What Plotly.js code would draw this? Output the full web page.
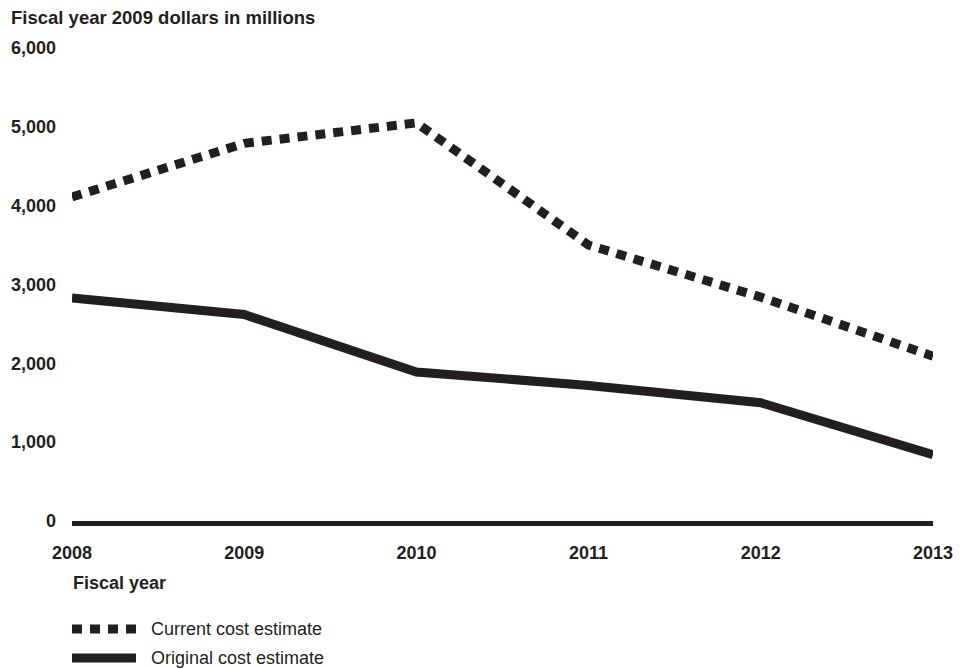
<!DOCTYPE html>
<html>
<head>
<meta charset="utf-8">
<script src="https://cdn.plot.ly/plotly-3.0.1.min.js"></script>
<style>html,body{margin:0;padding:0;background:#fff;}#chart{width:972px;height:669px;}</style>
</head>
<body>
<div id="chart"></div>
<script>
const years = [2008, 2009, 2010, 2011, 2012, 2013];
const currentEstimate = [4110, 4790, 5050, 3500, 2840, 2090];
const originalEstimate = [2830, 2620, 1890, 1720, 1500, 840];
const yTicks = [0, 1000, 2000, 3000, 4000, 5000, 6000];
const seriesNames = ['Current cost estimate', 'Original cost estimate'];

const INK = '#231f20';
const FONT = 'Liberation Sans, Arial, Helvetica, sans-serif';
const W = 972, H = 669;
const M = {l: 72, r: 39, t: 48, b: 148};
const pw = W - M.l - M.r, ph = H - M.t - M.b;
const px = x => (x - M.l) / pw;
const py = y => (H - M.b - y) / ph;

const traces = [
  {x: years, y: currentEstimate, name: seriesNames[0], type: 'scatter', mode: 'lines',
   line: {color: INK, width: 9, dash: '10px,8px'}, showlegend: false, hoverinfo: 'x+y'},
  {x: years, y: originalEstimate, name: seriesNames[1], type: 'scatter', mode: 'lines',
   line: {color: INK, width: 9}, showlegend: false, hoverinfo: 'x+y'}
];

const layout = {
  width: W, height: H,
  margin: M,
  paper_bgcolor: '#fff', plot_bgcolor: '#fff',
  font: {family: FONT, color: INK, size: 18},
  xaxis: {
    range: [2008, 2013], tickvals: years, tickformat: 'd',
    showgrid: false, zeroline: false, showline: true, linecolor: INK, linewidth: 5,
    ticks: '', ticklabelstandoff: 11,
    tickfont: {family: FONT, size: 18, color: INK, weight: 'bold'}
  },
  yaxis: {
    range: [0, 6000], tickvals: yTicks, tickformat: ',d',
    showgrid: false, zeroline: false, showline: false,
    ticks: '', ticklabelstandoff: 15,
    tickfont: {family: FONT, size: 18, color: INK, weight: 'bold'}
  },
  shapes: [
    {type: 'line', xref: 'paper', yref: 'paper', x0: px(72), x1: px(136), y0: py(629), y1: py(629),
     line: {color: INK, width: 9, dash: '10px,8px'}},
    {type: 'line', xref: 'paper', yref: 'paper', x0: px(72), x1: px(136), y0: py(658), y1: py(658),
     line: {color: INK, width: 9}}
  ],
  annotations: [
    {text: '<b>Fiscal year 2009 dollars in millions</b>', xref: 'paper', yref: 'paper',
     x: px(9), y: py(18), xanchor: 'left', yanchor: 'middle', showarrow: false,
     font: {family: FONT, size: 18.5, color: INK}},
    {text: '<b>Fiscal year</b>', xref: 'paper', yref: 'paper',
     x: px(71), y: py(583), xanchor: 'left', yanchor: 'middle', showarrow: false,
     font: {family: FONT, size: 18, color: INK}},
    {text: seriesNames[0], xref: 'paper', yref: 'paper',
     x: px(149), y: py(629), xanchor: 'left', yanchor: 'middle', showarrow: false,
     font: {family: FONT, size: 18, color: INK}},
    {text: seriesNames[1], xref: 'paper', yref: 'paper',
     x: px(149), y: py(658), xanchor: 'left', yanchor: 'middle', showarrow: false,
     font: {family: FONT, size: 18, color: INK}}
  ],
  showlegend: false
};

Plotly.newPlot('chart', traces, layout, {displayModeBar: false, staticPlot: true});
</script>
</body>
</html>
